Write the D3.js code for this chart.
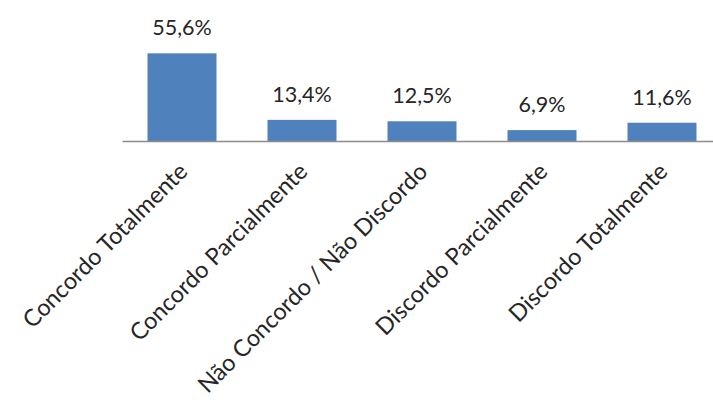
<!DOCTYPE html>
<html>
<head>
<meta charset="utf-8">
<script src="https://cdn.jsdelivr.net/npm/d3@7/dist/d3.min.js"></script>
<style>
  html, body { margin: 0; padding: 0; background: #ffffff; }
  svg { display: block; }
</style>
</head>
<body>
<svg id="chart" width="713" height="403"></svg>
<script>
// Survey response shares (%)
const categories = [
  "Concordo Totalmente",
  "Concordo Parcialmente",
  "Não Concordo / Não Discordo",
  "Discordo Parcialmente",
  "Discordo Totalmente"
];
const values = [55.6, 13.4, 12.5, 6.9, 11.6];
const valueLabels = ["55,6%", "13,4%", "12,5%", "6,9%", "11,6%"];

const svg = d3.select("#chart");
const font = "Lato, 'Liberation Sans', sans-serif";

const baseline = 141;
const x = d3.scaleBand()
  .domain(categories)
  .range([122, 722])
  .paddingInner(0.425)
  .paddingOuter(0.2125);

const y = d3.scaleLinear()
  .domain([0, 60])
  .range([baseline, baseline - 60 * 1.577]);

const data = categories.map((c, i) => ({ c, v: values[i], label: valueLabels[i] }));

// Bars
svg.append("g")
  .selectAll("rect")
  .data(data)
  .join("rect")
  .attr("x", d => x(d.c))
  .attr("y", d => y(d.v))
  .attr("width", x.bandwidth())
  .attr("height", d => y(0) - y(d.v))
  .attr("fill", "#4f81bd");

// Value labels above bars
svg.append("g")
  .selectAll("text")
  .data(data)
  .join("text")
  .attr("x", d => x(d.c) + x.bandwidth() / 2)
  .attr("y", d => y(d.v) - 18)
  .attr("text-anchor", "middle")
  .attr("font-family", font)
  .attr("font-size", 21.5)
  .attr("fill", "#262626")
  .text(d => d.label);

// Category axis with rotated labels
const axis = svg.append("g")
  .attr("transform", `translate(0,${baseline})`)
  .call(d3.axisBottom(x).tickSize(0).tickPadding(0));

axis.select(".domain")
  .attr("stroke", "#8c8c8c")
  .attr("stroke-width", 1.6);

axis.selectAll(".tick text")
  .attr("font-family", font)
  .attr("font-size", 23.5)
  .attr("fill", "#262626")
  .attr("text-anchor", "end")
  .attr("dy", null)
  .attr("x", 0)
  .attr("y", 0)
  .attr("transform", "translate(7,32) rotate(-45)");
</script>
</body>
</html>
